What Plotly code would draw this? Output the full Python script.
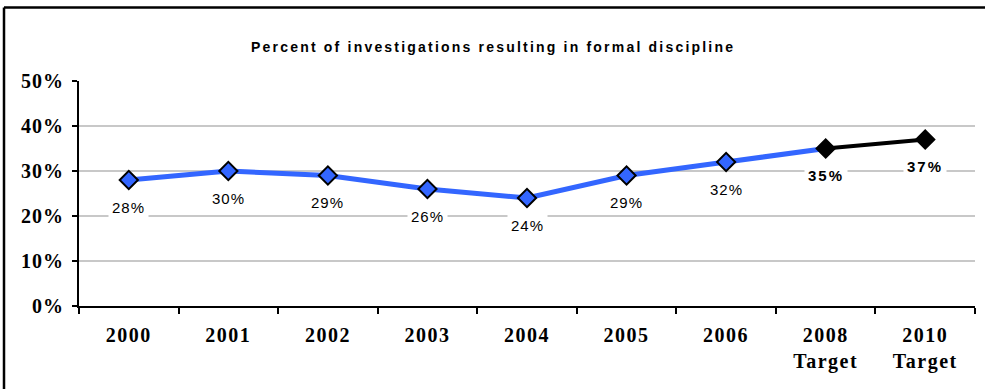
import plotly.graph_objects as go

categories = ["2000", "2001", "2002", "2003", "2004", "2005", "2006", "2008 Target", "2010 Target"]
tick_labels = ["2000", "2001", "2002", "2003", "2004", "2005", "2006", "2008<br>Target", "2010<br>Target"]
actual_cats = ["2000", "2001", "2002", "2003", "2004", "2005", "2006", "2008 Target"]
actual_vals = [0.28, 0.30, 0.29, 0.26, 0.24, 0.29, 0.32, 0.35]
target_cats = ["2008 Target", "2010 Target"]
target_vals = [0.35, 0.37]
label_text = ["28%", "30%", "29%", "26%", "24%", "29%", "32%", "35%", "37%"]
label_vals = [0.28, 0.30, 0.29, 0.26, 0.24, 0.29, 0.32, 0.35, 0.37]
label_bold = [False] * 7 + [True, True]
y_ticks = [0, 0.1, 0.2, 0.3, 0.4, 0.5]
y_tick_labels = ["0%", "10%", "20%", "30%", "40%", "50%"]
title = "Percent of investigations resulting in formal discipline"

W, H = 985, 389
L, R, T, B = 79, 10, 81, 83
pw, ph = W - L - R, H - T - B


def spaced(s, px):
    return f'<span style="letter-spacing:{px}px">{s}</span>'


fig = go.Figure()
fig.add_trace(go.Scatter(
    x=actual_cats, y=actual_vals, mode="lines",
    line=dict(color="#3366ff", width=5), hoverinfo="skip", showlegend=False))
fig.add_trace(go.Scatter(
    x=target_cats, y=target_vals, mode="lines",
    line=dict(color="#000000", width=4), hoverinfo="skip", showlegend=False))
fig.add_trace(go.Scatter(
    x=actual_cats[:7], y=actual_vals[:7], mode="markers",
    marker=dict(symbol="diamond", size=14, color="#3366ff", line=dict(color="#000000", width=2)),
    showlegend=False))
fig.add_trace(go.Scatter(
    x=target_cats, y=target_vals, mode="markers",
    marker=dict(symbol="diamond", size=14, color="#000000", line=dict(color="#000000", width=2)),
    showlegend=False))

for i, (v, t, b) in enumerate(zip(label_vals, label_text, label_bold)):
    txt = spaced(t, 2 if b else 1)
    fig.add_annotation(
        x=i, y=v, xref="x", yref="y", text=(f"<b>{txt}</b>" if b else txt),
        showarrow=False, yshift=-27, bgcolor="white", borderpad=3,
        font=dict(family="Arial, Liberation Sans", size=15, color="#000000"))

fig.add_annotation(
    x=(493 - L) / pw, y=(H - B - 37) / ph, xref="paper", yref="paper",
    text="<b>" + spaced(title, 2.2) + "</b>",
    showarrow=False, font=dict(family="Arial, Liberation Sans", size=14, color="#000000"))

# outer frame (only top and left edges fall inside the picture)
top_y = (H - B - 7.5) / ph
left_x = (4 - L) / pw
fig.add_shape(type="line", xref="paper", yref="paper", layer="above",
              x0=left_x, x1=(W - L) / pw, y0=top_y, y1=top_y,
              line=dict(color="#000000", width=2.5))
fig.add_shape(type="line", xref="paper", yref="paper", layer="above",
              x0=left_x, x1=left_x, y0=-B / ph, y1=top_y,
              line=dict(color="#000000", width=2.5))

fig.update_layout(
    width=W, height=H, margin=dict(l=L, r=R, t=T, b=B),
    paper_bgcolor="white", plot_bgcolor="white",
    xaxis=dict(type="category", categoryorder="array", categoryarray=categories,
               tickvals=categories, ticktext=["<b>" + spaced(t, 1.5) + "</b>" for t in tick_labels],
               tickson="boundaries",
               ticks="outside", ticklen=6, tickcolor="#000000", tickwidth=2,
               showline=True, linecolor="#000000", linewidth=2, showgrid=False,
               range=[-0.5, 8.5], ticklabelstandoff=10, automargin=False,
               tickfont=dict(family="Times New Roman, Liberation Serif", size=20, color="#000000")),
    yaxis=dict(range=[0, 0.5], tickvals=y_ticks,
               ticktext=["<b>" + spaced(t, 1) + "</b>" for t in y_tick_labels],
               ticks="outside", ticklen=5, tickcolor="#000000", tickwidth=2,
               showline=True, linecolor="#000000", linewidth=2,
               showgrid=True, gridcolor="#c8c8c8", gridwidth=2, zeroline=False,
               ticklabelstandoff=4, automargin=False,
               tickfont=dict(family="Times New Roman, Liberation Serif", size=20, color="#000000")),
)

fig.write_html("out.html", config={"displayModeBar": False},
               post_script="document.body.style.margin='0';document.body.style.overflow='hidden';")
